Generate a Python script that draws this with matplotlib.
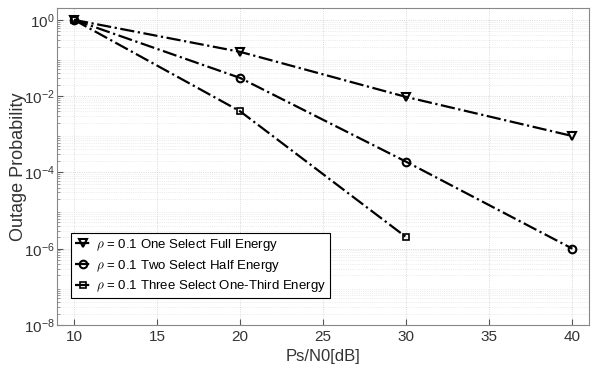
import numpy as np
import matplotlib.pyplot as plt
from matplotlib.ticker import LogLocator, NullFormatter

plt.rcParams['font.family'] = ['Liberation Sans', 'DejaVu Sans']
plt.rcParams['mathtext.fontset'] = 'cm'

# données
snr = [10, 20, 30, 40]
p_one = [1.0, 0.145, 0.0095, 9.0e-4]
p_two = [1.0, 0.030, 1.9e-4, 1.0e-6]
snr_three = [10, 20, 30]
p_three = [1.0, 4.0e-3, 2.0e-6]

labels = [r'$\rho$ = 0.1 One Select Full Energy',
          r'$\rho$ = 0.1 Two Select Half Energy',
          r'$\rho$ = 0.1 Three Select One-Third Energy']

fig, ax = plt.subplots(figsize=(5.92, 3.81), dpi=100)
fig.subplots_adjust(left=0.097, right=0.995, top=0.978, bottom=0.147)

ax.semilogy(snr, p_one, '-.', color='k', marker='v', markersize=6,
            markerfacecolor='none', markeredgewidth=1.5, lw=1.6, label=labels[0])
ax.semilogy(snr, p_two, '-.', color='k', marker='o', markersize=5.5,
            markerfacecolor='none', markeredgewidth=1.5, lw=1.6, label=labels[1])
ax.semilogy(snr_three, p_three, '-.', color='k', marker='s', markersize=4,
            markerfacecolor='none', markeredgewidth=1.2, lw=1.6, label=labels[2])

ax.set_xlim(9, 41)
ax.set_ylim(1e-8, 2)
ax.set_xticks([10, 15, 20, 25, 30, 35, 40])
ax.set_yticks([1e0, 1e-2, 1e-4, 1e-6, 1e-8])
ax.yaxis.set_minor_locator(LogLocator(base=10, subs=np.arange(2, 10), numticks=20))
ax.yaxis.set_minor_formatter(NullFormatter())
ax.tick_params(axis='both', which='major', labelsize=11, direction='in', length=4,
               color='#555555', labelcolor='#333333')
ax.tick_params(axis='y', which='minor', direction='in', length=2, color='#888888')
ax.tick_params(axis='y', labelsize=11, pad=2)

ax.grid(True, which='major', color='#cccccc', lw=0.6, ls=':')
ax.grid(True, which='minor', axis='y', color='#dddddd', lw=0.5, ls=':')
for s in ax.spines.values():
    s.set_color('#888888')

ax.set_xlabel('Ps/N0[dB]', fontsize=12, color='#333333')
ax.set_ylabel('Outage Probability', fontsize=13, color='#333333')
ax.yaxis.set_label_coords(-0.058, 0.5)

leg = ax.legend(loc='lower left', bbox_to_anchor=(0.025, 0.085), fontsize=9.5,
                fancybox=False, edgecolor='k', framealpha=1,
                handlelength=1.2, handletextpad=0.4, borderpad=0.3, labelspacing=0.35,
                borderaxespad=0)
leg.get_frame().set_linewidth(0.8)

plt.savefig('out.png', dpi=100)
